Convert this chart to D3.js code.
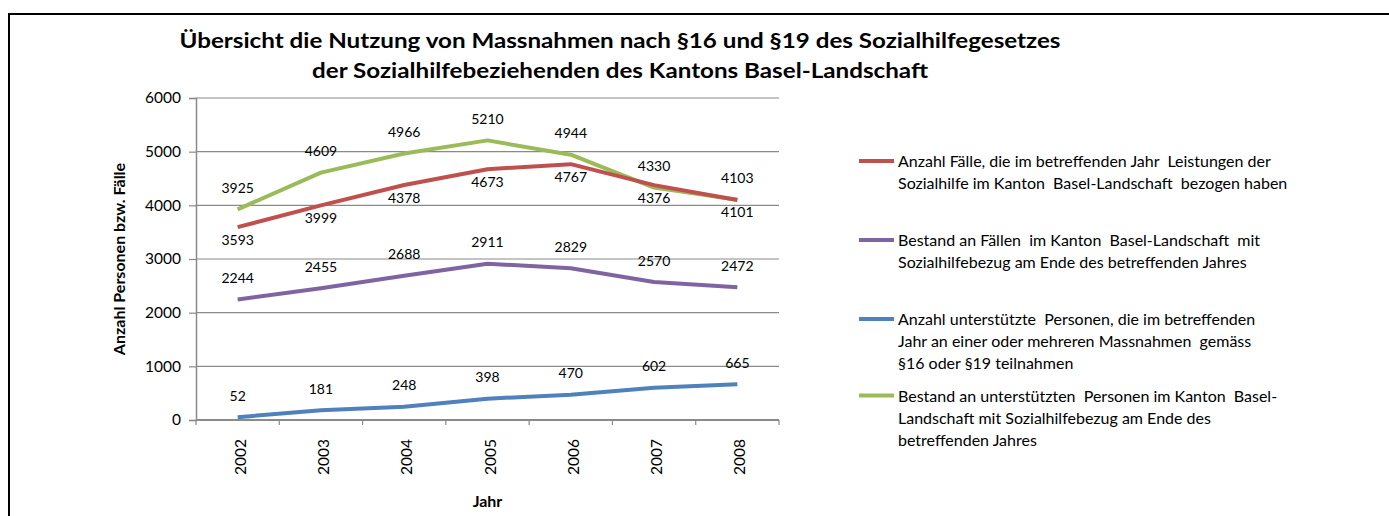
<!DOCTYPE html>
<html>
<head>
<meta charset="utf-8">
<script src="https://cdn.jsdelivr.net/npm/d3@7"></script>
<style>
  body { margin: 0; background: #fff; }
  text { font-family: Lato, "Open Sans", sans-serif; fill: #000; }
  .axisText { font-weight: bold; font-size: 16px; }
</style>
</head>
<body>
<div id="chart"></div>
<script>
var svgWidth = 1389;
var svgHeight = 516;

var margin = { top: 98, right: 610, bottom: 96, left: 196 };
var width = svgWidth - margin.left - margin.right;
var height = svgHeight - margin.top - margin.bottom;

// Data
var years = ["2002", "2003", "2004", "2005", "2006", "2007", "2008"];
var faelle = [3593, 3999, 4378, 4673, 4767, 4376, 4101];
var bestandFaelle = [2244, 2455, 2688, 2911, 2829, 2570, 2472];
var personenMassnahmen = [52, 181, 248, 398, 470, 602, 665];
var bestandPersonen = [3925, 4609, 4966, 5210, 4944, 4330, 4103];
var yTicks = [0, 1000, 2000, 3000, 4000, 5000, 6000];

var titleLines = [
  "Übersicht die Nutzung von Massnahmen nach §16 und §19 des Sozialhilfegesetzes",
  "der Sozialhilfebeziehenden des Kantons Basel-Landschaft"
];

var legendFaelle = ["Anzahl Fälle, die im betreffenden Jahr  Leistungen der",
  "Sozialhilfe im Kanton  Basel-Landschaft  bezogen haben"];
var legendBestandFaelle = ["Bestand an Fällen  im Kanton  Basel-Landschaft  mit",
  "Sozialhilfebezug am Ende des betreffenden Jahres"];
var legendPersonen = ["Anzahl unterstützte  Personen, die im betreffenden",
  "Jahr an einer oder mehreren Massnahmen  gemäss",
  "§16 oder §19 teilnahmen"];
var legendBestandPersonen = ["Bestand an unterstützten  Personen im Kanton  Basel-",
  "Landschaft mit Sozialhilfebezug am Ende des",
  "betreffenden Jahres"];

// series in legend order; label: where the data label sits
var series = [
  { values: faelle, color: "#C0504D", label: "below", legend: legendFaelle },
  { values: bestandFaelle, color: "#8064A2", label: "above", legend: legendBestandFaelle },
  { values: personenMassnahmen, color: "#4F81BD", label: "above", legend: legendPersonen },
  { values: bestandPersonen, color: "#9BBB59", label: "above", legend: legendBestandPersonen }
];
// draw order (green under red like the original)
var drawOrder = [3, 1, 2, 0];

var svg = d3.select("#chart")
  .append("svg")
  .attr("width", svgWidth)
  .attr("height", svgHeight);

// outer frame (cut off at right / bottom)
svg.append("rect")
  .attr("x", 9).attr("y", 14)
  .attr("width", 1500).attr("height", 700)
  .attr("fill", "none")
  .attr("stroke", "#000")
  .attr("stroke-width", 2);

// Title
svg.selectAll(".title")
  .data(titleLines)
  .enter()
  .append("text")
  .attr("class", "title")
  .attr("x", 620)
  .attr("y", (d, i) => 48 + i * 29.5)
  .attr("text-anchor", "middle")
  .attr("font-size", "21px")
  .attr("font-weight", "bold")
  .attr("textLength", (d, i) => i === 0 ? 881 : 616)
  .attr("lengthAdjust", "spacingAndGlyphs")
  .text(d => d);

var chartGroup = svg.append("g")
  .attr("transform", `translate(${margin.left}, ${margin.top})`);

// Scales
// ==============================
var xBand = d3.scaleBand()
  .domain(years)
  .range([0, width]);

var yLinearScale = d3.scaleLinear()
  .domain([0, 6000])
  .range([height, 0]);

// Gridlines
chartGroup.append("g")
  .selectAll("line")
  .data(yTicks.filter(d => d > 0))
  .enter()
  .append("line")
  .attr("x1", 0)
  .attr("x2", width)
  .attr("y1", d => yLinearScale(d))
  .attr("y2", d => yLinearScale(d))
  .attr("stroke", "#8a8a8a")
  .attr("stroke-width", 1.2);

// Axes
// ==============================
var leftAxis = d3.axisLeft(yLinearScale)
  .tickValues(yTicks)
  .tickFormat(d3.format("d"))
  .tickSize(7)
  .tickPadding(8);

var yAxisG = chartGroup.append("g").call(leftAxis);
yAxisG.select(".domain").attr("stroke", "#8a8a8a").attr("stroke-width", 1.5);
yAxisG.selectAll(".tick line").attr("stroke", "#8a8a8a").attr("stroke-width", 1.2);
yAxisG.selectAll(".tick text")
  .attr("font-size", "15.5px")
  .attr("font-family", "Lato, sans-serif")
  .attr("fill", "#000");

// x axis line
chartGroup.append("line")
  .attr("x1", 0).attr("x2", width)
  .attr("y1", height).attr("y2", height)
  .attr("stroke", "#8a8a8a")
  .attr("stroke-width", 1.8);

// x tick marks between categories
var boundaries = years.map(d => xBand(d)).concat([width]);
chartGroup.append("g")
  .selectAll("line")
  .data(boundaries)
  .enter()
  .append("line")
  .attr("x1", d => d).attr("x2", d => d)
  .attr("y1", height).attr("y2", height + 5)
  .attr("stroke", "#8a8a8a")
  .attr("stroke-width", 1.2);

// x tick labels (rotated)
chartGroup.append("g")
  .selectAll("text")
  .data(years)
  .enter()
  .append("text")
  .attr("transform", d => `translate(${xBand(d) + xBand.bandwidth() / 2 + 8}, ${height + 19}) rotate(-90)`)
  .attr("text-anchor", "end")
  .attr("font-size", "15.5px")
  .text(d => d);

// Lines
// ==============================
var line = d3.line()
  .x((d, i) => xBand(years[i]) + xBand.bandwidth() / 2)
  .y(d => yLinearScale(d));

drawOrder.forEach(function(k) {
  var s = series[k];
  chartGroup.append("path")
    .datum(s.values)
    .attr("d", line)
    .attr("fill", "none")
    .attr("stroke", s.color)
    .attr("stroke-width", 4)
    .attr("stroke-linejoin", "round");
});

// Data labels
series.forEach(function(s) {
  chartGroup.append("g")
    .selectAll("text")
    .data(s.values)
    .enter()
    .append("text")
    .attr("x", (d, i) => xBand(years[i]) + xBand.bandwidth() / 2)
    .attr("y", d => yLinearScale(d) + (s.label === "above" ? -16.5 : 17.5))
    .attr("text-anchor", "middle")
    .attr("font-size", "14px")
    .text(d => d);
});

// Axis titles
chartGroup.append("text")
  .attr("transform", "rotate(-90)")
  .attr("x", 0 - height / 2)
  .attr("y", -71)
  .attr("text-anchor", "middle")
  .attr("class", "axisText")
  .text("Anzahl Personen bzw. Fälle");

chartGroup.append("text")
  .attr("x", width / 2)
  .attr("y", height + 87)
  .attr("text-anchor", "middle")
  .attr("class", "axisText")
  .text("Jahr");

// Legend
// ==============================
var legendTop = [167, 246, 325, 401.5];
var legend = svg.append("g");
series.forEach(function(s, k) {
  var g = legend.append("g");
  g.append("line")
    .attr("x1", 859).attr("x2", 894)
    .attr("y1", legendTop[k] - 6).attr("y2", legendTop[k] - 6)
    .attr("stroke", s.color)
    .attr("stroke-width", 4);
  g.selectAll("text")
    .data(s.legend)
    .enter()
    .append("text")
    .attr("x", 898)
    .attr("y", (d, i) => legendTop[k] + i * 22)
    .attr("font-size", "16px")
    .attr("xml:space", "preserve")
    .style("white-space", "pre")
    .text(d => d);
});
</script>
</body>
</html>
